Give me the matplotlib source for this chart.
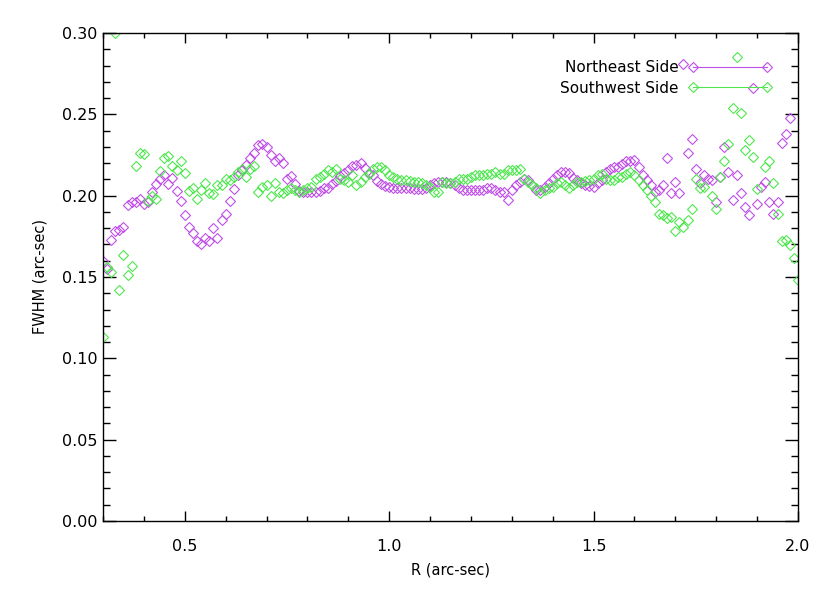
import numpy as np
import matplotlib
matplotlib.use("Agg")
import matplotlib.pyplot as plt
from matplotlib.lines import Line2D
from matplotlib.ticker import MultipleLocator, FormatStrFormatter

nan = np.nan

# radius grid (arc-sec), one bin every 0.01
r = [round(0.30 + 0.01 * i, 2) for i in range(171)]

# FWHM, northeast side
fwhm_ne = [
    .160, .155, .173, .178, .179, .181, .194, .196, .196, .198,
    .195, .196, .202, .207, .210, .213, .207, .211, .203, .197,
    .188, .181, .177, .172, .170, .174, .172, .180, .174, .185,
    .189, .197, .204, .213, .216, .219, .223, .226, .231, .232,
    .230, .225, .221, .223, .220, .210, .212, .207, .203, .2025,
    .2025, .2025, .2025, .203, .205, .205, .207, .209, .212, .214,
    .216, .218, .219, .220, .217, .214, .213, .209, .207, .206,
    .2055, .205, .205, .205, .205, .2045, .204, .204, .204, .205,
    .2065, .2075, .2085, .2085, .2085, .2075, .2065, .2045, .2035, .2035,
    .2035, .2035, .2035, .2035, .2045, .2045, .2035, .2025, .2025, .1975,
    .2035, .2065, .2085, .2105, .2095, .2065, .2035, .2035, .2055, .2075,
    .2105, .2125, .2145, .2145, .214, .211, .2095, .2075, .2065, .206,
    .2055, .2075, .2095, .2145, .2165, .2175, .2175, .2195, .221, .2215,
    .222, .2175, .2125, .2095, .2065, .2025, .2035, .2065, .223, .2015,
    .2085, .2015, .281, .226, .235, .2165, .2075, .2125, .2105, .2095,
    .196, .2115, .230, .2145, .1975, .2125, .2015, .193, .188, .266,
    .195, .2055, .2085, .196, .189, .196, .2325, .238, .2475, nan,
    nan,
]

# FWHM, southwest side
fwhm_sw = [
    .113, .156, .153, .300, .142, .1635, .151, .157, .218, .2265,
    .2255, .197, .200, .198, .215, .223, .2245, .218, .216, .221,
    .214, .203, .205, .198, .2035, .208, .2015, .201, .2065, .2065,
    .2105, .2095, .2115, .2145, .2165, .2115, .2165, .2185, .2025, .2055,
    .2065, .1995, .2075, .2025, .2015, .2035, .2045, .2035, .2025, .2035,
    .2045, .2055, .2105, .2115, .2135, .2155, .2145, .2165, .2105, .2095,
    .2085, .2125, .2065, .2085, .2115, .2135, .2165, .2175, .2175, .2155,
    .2125, .2115, .2105, .2095, .2095, .209, .2085, .2085, .2075, .2065,
    .2055, .2025, .2025, .2085, .2075, .2075, .2085, .2105, .2105, .2105,
    .2115, .2125, .2125, .2125, .2135, .2135, .2145, .2135, .2135, .2155,
    .2155, .2155, .2165, .2105, .2085, .2065, .2045, .2015, .2035, .2045,
    .2055, .2075, .2085, .2065, .2045, .2065, .2085, .2085, .209, .2095,
    .2105, .2125, .2135, .2105, .2095, .2095, .2115, .2115, .2135, .2145,
    .2125, .2095, .2065, .2035, .1995, .196, .189, .188, .186, .187,
    .178, .184, .181, .185, .192, .2105, .2045, .2055, nan, .1995,
    .192, .2115, .221, .232, .254, .285, .251, .228, .234, .2235,
    .204, nan, .2175, .2215, .2075, .189, .172, .173, .1695, .1615,
    .148,
]

labels = ["Northeast Side", "Southwest Side"]
c_ne = "#bf4fe6"
c_sw = "#4fe64f"
msize = 4.6

fig = plt.figure(figsize=(8.3, 5.93), dpi=100)
ax = fig.add_axes([0.1241, 0.1214, 0.8373, 0.8230])

ax.plot(r, fwhm_ne, ls="none", marker="D", ms=msize, mfc="none", mec=c_ne, mew=0.8)
ax.plot(r, fwhm_sw, ls="none", marker="D", ms=msize, mfc="none", mec=c_sw, mew=0.8)

ax.set_xlim(0.3, 2.0)
ax.set_ylim(0.0, 0.30)
ax.xaxis.set_major_locator(MultipleLocator(0.5))
ax.xaxis.set_minor_locator(MultipleLocator(0.1))
ax.yaxis.set_major_locator(MultipleLocator(0.05))
ax.yaxis.set_minor_locator(MultipleLocator(0.01))
ax.xaxis.set_major_formatter(FormatStrFormatter("%.1f"))
ax.yaxis.set_major_formatter(FormatStrFormatter("%.2f"))

ax.tick_params(axis="both", which="both", direction="in", top=True, right=True,
               width=1.0, labelsize=11.5, colors="black")
ax.tick_params(axis="x", which="major", length=7, pad=13)
ax.tick_params(axis="x", which="minor", length=3.5)
ax.tick_params(axis="y", which="major", length=9.5, pad=4)
ax.tick_params(axis="y", which="minor", length=5)
for s in ax.spines.values():
    s.set_linewidth(1.0)

ax.set_xlabel("R (arc-sec)", fontsize=10.5, labelpad=6)
ax.set_ylabel("FWHM (arc-sec)", fontsize=10.5, labelpad=10)

handles = [
    Line2D([], [], color=c_ne, lw=0.8, marker="D", ms=msize, mfc="none", mec=c_ne, mew=0.8),
    Line2D([], [], color=c_sw, lw=0.8, marker="D", ms=msize, mfc="none", mec=c_sw, mew=0.8),
]
ax.legend(handles, labels, loc="upper right", bbox_to_anchor=(0.9626, 0.944),
          frameon=False, numpoints=2, markerfirst=False, fontsize=11,
          handlelength=5.5, handletextpad=0.6, borderpad=0, borderaxespad=0,
          labelspacing=0.35)

fig.savefig("out.png", dpi=100)
plt.close(fig)
